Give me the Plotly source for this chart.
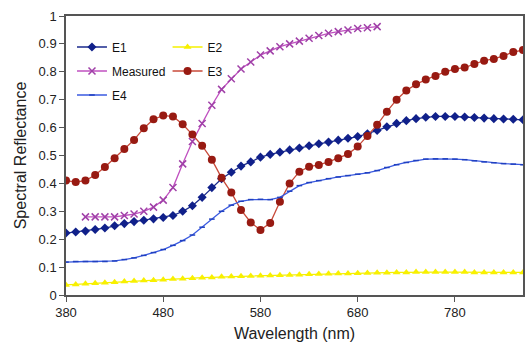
import plotly.graph_objects as go

wavelength = list(range(380, 851, 10))
measured_wl = list(range(400, 701, 10))

e1 = [0.222, 0.226, 0.229, 0.235, 0.24, 0.248, 0.256, 0.263, 0.268, 0.273, 0.278, 0.285,
      0.3, 0.32, 0.35, 0.385, 0.417, 0.44, 0.462, 0.477, 0.494, 0.504, 0.512, 0.52,
      0.527, 0.535, 0.542, 0.548, 0.555, 0.562, 0.568, 0.578, 0.59, 0.603, 0.615, 0.625,
      0.632, 0.637, 0.64, 0.64, 0.64, 0.638, 0.636, 0.634, 0.632, 0.631, 0.63, 0.628]
e2 = [0.036, 0.038, 0.04, 0.042, 0.044, 0.046, 0.048, 0.05, 0.052, 0.053, 0.055, 0.057,
      0.058, 0.06, 0.062, 0.063, 0.065, 0.066, 0.067, 0.068, 0.069, 0.07, 0.071, 0.072,
      0.073, 0.074, 0.075, 0.076, 0.077, 0.077, 0.078, 0.079, 0.08, 0.08, 0.081, 0.081,
      0.082, 0.082, 0.082, 0.082, 0.082, 0.082, 0.081, 0.081, 0.081, 0.081, 0.081, 0.081]
measured = [0.28, 0.28, 0.28, 0.28, 0.285, 0.29, 0.3, 0.315, 0.34, 0.385, 0.47, 0.55,
            0.615, 0.68, 0.737, 0.775, 0.81, 0.835, 0.86, 0.875, 0.89, 0.9, 0.91, 0.92,
            0.93, 0.938, 0.944, 0.95, 0.955, 0.958, 0.962]
e3 = [0.41, 0.405, 0.41, 0.43, 0.459, 0.49, 0.523, 0.556, 0.598, 0.63, 0.643, 0.64,
      0.612, 0.575, 0.535, 0.485, 0.42, 0.367, 0.305, 0.26, 0.233, 0.258, 0.334, 0.4,
      0.442, 0.46, 0.466, 0.477, 0.49, 0.505, 0.532, 0.57, 0.61, 0.657, 0.7, 0.733,
      0.755, 0.772, 0.785, 0.8, 0.81, 0.815, 0.828, 0.84, 0.846, 0.857, 0.871, 0.878]
e4 = [0.118, 0.12, 0.12, 0.12, 0.12, 0.122, 0.127, 0.133, 0.142, 0.152, 0.163, 0.178,
      0.195, 0.215, 0.243, 0.272, 0.3, 0.322, 0.336, 0.342, 0.343, 0.342, 0.35, 0.372,
      0.392, 0.403, 0.41, 0.417, 0.423, 0.428, 0.433, 0.438, 0.446, 0.457, 0.467, 0.475,
      0.482, 0.487, 0.488, 0.488, 0.487, 0.485, 0.481, 0.477, 0.474, 0.471, 0.469, 0.467]

x_ticks = [380, 480, 580, 680, 780]
y_ticks = [0, 0.1, 0.2, 0.3, 0.4, 0.5, 0.6, 0.7, 0.8, 0.9, 1]

FONT = "Liberation Sans, Arial, sans-serif"

fig = go.Figure()
fig.add_trace(go.Scatter(x=wavelength, y=e1, name="E1", mode="lines+markers",
                         line=dict(color="#1a2a8c", width=1.3),
                         marker=dict(symbol="diamond", size=7, color="#10208a"),
                         legend="legend"))
fig.add_trace(go.Scatter(x=wavelength, y=e2, name="E2", mode="lines+markers",
                         line=dict(color="#f5f000", width=1.3),
                         marker=dict(symbol="triangle-up", size=7, color="#f8f000"),
                         legend="legend2"))
fig.add_trace(go.Scatter(x=measured_wl, y=measured, name="Measured", mode="lines+markers",
                         line=dict(color="#c050c0", width=1.3),
                         marker=dict(symbol="x-thin", size=7, color="#a040a8",
                                     line=dict(width=1.5, color="#a040a8")),
                         legend="legend3"))
fig.add_trace(go.Scatter(x=wavelength, y=e3, name="E3", mode="lines+markers",
                         line=dict(color="#c84a3a", width=1.3),
                         marker=dict(symbol="circle", size=8, color="#981a12"),
                         legend="legend4"))
fig.add_trace(go.Scatter(x=wavelength, y=e4, name="E4", mode="lines+markers",
                         line=dict(color="#3a5ae0", width=1.3),
                         marker=dict(symbol="line-ew", size=4, color="#2040c0",
                                     line=dict(width=1.5, color="#2040c0")),
                         legend="legend5"))

def leg(x, y):
    return dict(x=x, y=y, xref="paper", yref="paper", xanchor="left", yanchor="middle",
                bgcolor="rgba(0,0,0,0)", font=dict(family=FONT, size=12, color="#111"),
                itemwidth=30)

# plot area: x 66..525, y 16..295
def px(xp):
    return (xp - 66) / (525 - 66)
def py(yp):
    return (295 - yp) / (295 - 16)

fig.update_layout(
    width=526, height=345,
    margin=dict(l=66, r=1, t=16, b=50),
    paper_bgcolor="white", plot_bgcolor="white",
    showlegend=True,
    font=dict(family=FONT, size=13, color="#222"),
    legend=leg(px(72), py(47)),
    legend2=leg(px(168), py(47)),
    legend3=leg(px(72), py(71)),
    legend4=leg(px(168), py(71)),
    legend5=leg(px(72), py(95)),
    xaxis=dict(range=[380, 850], tickvals=x_ticks, ticks="outside", ticklen=5,
               tickcolor="#555", showline=True, linecolor="#555", linewidth=1.5,
               mirror=True, showgrid=False, zeroline=False,
               tickfont=dict(family=FONT, size=13, color="#222"),
               title=dict(text="Wavelength (nm)", font=dict(family=FONT, size=16, color="#222"),
                          standoff=8)),
    yaxis=dict(range=[0, 1], tickvals=y_ticks, ticks="outside", ticklen=5,
               tickcolor="#555", showline=True, linecolor="#555", linewidth=1.5,
               mirror=True, showgrid=False, zeroline=False,
               tickfont=dict(family=FONT, size=13, color="#222"),
               title=dict(text="Spectral Reflectance", font=dict(family=FONT, size=16, color="#222"),
                          standoff=8)),
)

fig.write_html("out.html", config={"displayModeBar": False},
               post_script="document.body.style.margin='0';document.body.style.padding='0';")
